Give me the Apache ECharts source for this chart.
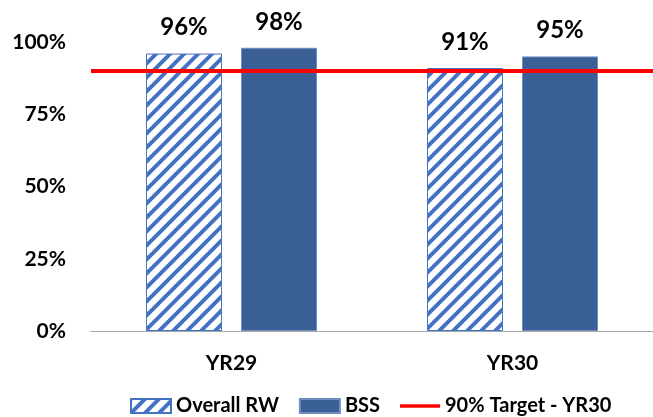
<!DOCTYPE html>
<html>
<head>
<meta charset="utf-8">
<script src="https://cdn.jsdelivr.net/npm/echarts@6/dist/echarts.min.js"></script>
<style>
  html, body { margin: 0; padding: 0; background: #fff; }
  #chart { width: 653px; height: 417px; }
</style>
</head>
<body>
<div id="chart"></div>
<script>
// Survey completion by year
const categories = ['YR29', 'YR30'];
const overallRWValues = [0.96, 0.91];
const bssValues = [0.98, 0.95];
const targetValue = 0.9;
const yTicks = [0, 0.25, 0.5, 0.75, 1];

const FONT = 'Lato, "Open Sans", sans-serif';
const HATCH_BLUE = '#4573C3';
const BSS_BLUE = '#3A5F96';

// Diagonal hatch tile for the "Overall RW" bars
function hatchTile() {
  const s = 14;
  const c = document.createElement('canvas');
  c.width = s; c.height = s;
  const g = c.getContext('2d');
  g.fillStyle = '#fff';
  g.fillRect(0, 0, s, s);
  g.strokeStyle = HATCH_BLUE;
  g.lineWidth = 4;
  g.beginPath();
  for (let k = -1; k <= 1; k++) {
    g.moveTo(k * s - 1, s + 1);
    g.lineTo(k * s + s + 1, -1);
  }
  g.stroke();
  return c;
}

const chart = echarts.init(document.getElementById('chart'), null, { renderer: 'canvas' });

const pct = v => Math.round(v * 100) + '%';

chart.setOption({
  animation: false,
  textStyle: { fontFamily: FONT },
  grid: { left: 91, right: -2, top: 42, bottom: 86 },
  legend: {
    left: 125,
    top: 391,
    itemWidth: 40,
    itemHeight: 14,
    itemGap: 20,
    textStyle: { fontFamily: FONT, fontWeight: 'bold', fontSize: 20, color: '#000' },
    data: [
      { name: 'Overall RW', icon: 'rect' },
      { name: 'BSS', icon: 'rect' },
      { name: '90% Target - YR30', icon: 'path://M0,0H44V4H0Z' }
    ]
  },
  xAxis: {
    type: 'category',
    data: categories,
    axisLine: { lineStyle: { color: '#A6A6A6', width: 1 } },
    axisTick: { show: false },
    axisLabel: { fontFamily: FONT, fontWeight: 'bold', fontSize: 21, color: '#000', margin: 22 }
  },
  yAxis: {
    type: 'value',
    min: 0,
    max: 1,
    interval: 0.25,
    splitLine: { show: false },
    axisLine: { show: false },
    axisTick: { show: false },
    axisLabel: {
      fontFamily: FONT, fontWeight: 'bold', fontSize: 21, color: '#000', margin: 25,
      formatter: v => yTicks.includes(v) ? pct(v) : ''
    }
  },
  series: [
    {
      name: 'Overall RW',
      type: 'bar',
      data: overallRWValues,
      barWidth: 76,
      barGap: '25%',
      itemStyle: {
        color: { image: hatchTile(), repeat: 'repeat' },
        borderColor: HATCH_BLUE,
        borderWidth: 1
      },
      label: {
        show: true, position: 'top', distance: 14,
        fontFamily: FONT, fontWeight: 'bold', fontSize: 24, color: '#000',
        formatter: p => pct(p.value)
      }
    },
    {
      name: 'BSS',
      type: 'bar',
      data: bssValues,
      barWidth: 76,
      itemStyle: { color: BSS_BLUE, borderColor: '#6E8DC0', borderWidth: 1 },
      label: {
        show: true, position: 'top', distance: 14,
        fontFamily: FONT, fontWeight: 'bold', fontSize: 24, color: '#000',
        formatter: p => pct(p.value)
      }
    },
    {
      name: '90% Target - YR30',
      type: 'line',
      data: [],
      symbol: 'none',
      color: '#FF0000',
      lineStyle: { color: '#FF0000', width: 4 },
      markLine: {
        silent: true,
        symbol: 'none',
        label: { show: false },
        lineStyle: { color: '#FF0000', width: 4, type: 'solid' },
        data: [{ yAxis: targetValue }]
      }
    }
  ]
});
</script>
</body>
</html>
